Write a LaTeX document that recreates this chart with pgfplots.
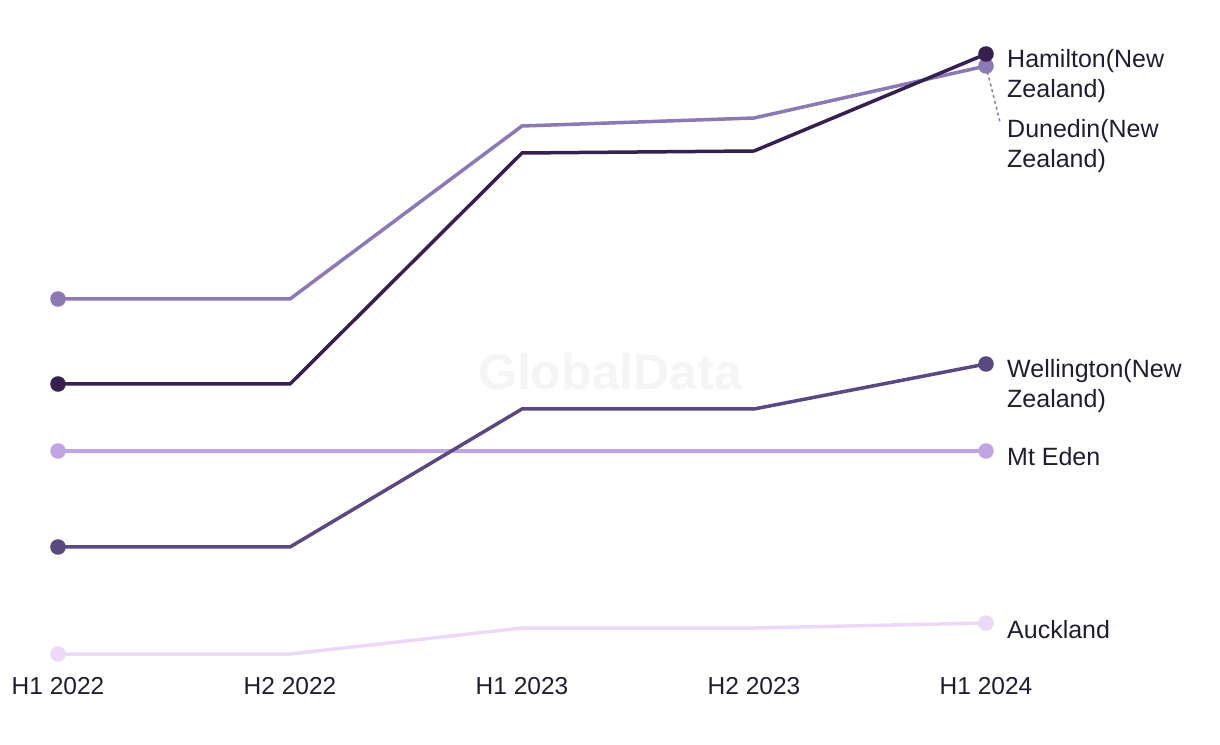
\documentclass[border=0pt]{standalone}
\usepackage{pgfplots}
\pgfplotsset{compat=1.18}
\usepackage{fontspec}
\setmainfont{Liberation Sans}
\definecolor{cDun}{HTML}{8C78B4}
\definecolor{cHam}{HTML}{35204F}
\definecolor{cWel}{HTML}{5C4880}
\definecolor{cMt}{HTML}{C0A5E2}
\definecolor{cAuk}{HTML}{EED8FA}
\definecolor{txt}{HTML}{1E1E30}
\begin{document}
\begin{tikzpicture}
\path (-58pt,-70pt) rectangle (1162pt,674pt);
\begin{axis}[
  scale only axis, width=928pt, height=674pt,
  xmin=0, xmax=4, ymin=70, ymax=744,
  clip=false,
  axis line style={draw=none},
  tick style={draw=none},
  ytick=\empty,
  xtick={0,1,2,3,4},
  xticklabels={H1 2022,H2 2022,H1 2023,H2 2023,H1 2024},
  xticklabel style={anchor=base, yshift=-20pt, inner sep=0pt, text=txt, font=\fontsize{24.5}{30}\selectfont},
  every axis plot/.append style={line width=3.5pt, mark=*, mark size=6pt, mark indices={1,5}},
]
\node[text=black!4, font=\fontsize{50}{60}\selectfont\bfseries] at (axis cs:2.38,372) {GlobalData};
\addplot[cAuk, mark options={fill=cAuk, draw=cAuk}] coordinates {(0,90) (1,90) (2,116) (3,116) (4,121)};
\addplot[cMt, mark options={fill=cMt, draw=cMt}] coordinates {(0,293) (1,293) (2,293) (3,293) (4,293)};
\addplot[cWel, mark options={fill=cWel, draw=cWel}] coordinates {(0,197) (1,197) (2,335) (3,335) (4,380)};
\addplot[cDun, mark options={fill=cDun, draw=cDun}] coordinates {(0,445) (1,445) (2,618) (3,626) (4,678)};
\addplot[cHam, mark options={fill=cHam, draw=cHam}] coordinates {(0,360) (1,360) (2,591) (3,593) (4,690)};
\draw[cDun, line width=1.5pt, dash pattern=on 3pt off 3pt] (axis cs:4,678) -- ++(14pt,-56pt);
\tikzset{lab/.style={anchor=base west, xshift=21pt, inner sep=0pt, align=left, text=txt, font=\fontsize{25}{30}\selectfont}}
\node[lab] at (axis cs:4,646) {Hamilton(New\\Zealand)};
\node[lab] at (axis cs:4,576) {Dunedin(New\\Zealand)};
\node[lab] at (axis cs:4,336) {Wellington(New\\Zealand)};
\node[lab] at (axis cs:4,278) {Mt Eden};
\node[lab] at (axis cs:4,106) {Auckland};
\end{axis}
\end{tikzpicture}
\end{document}
